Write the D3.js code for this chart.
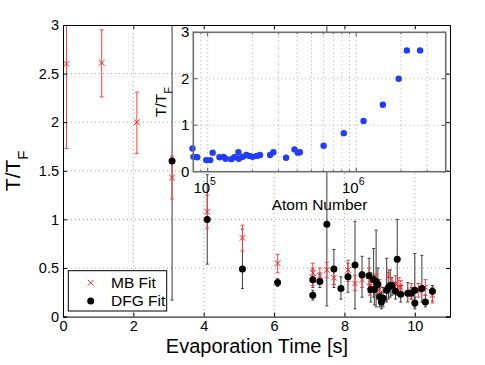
<!DOCTYPE html>
<html>
<head>
<meta charset="utf-8">
<script src="https://cdn.jsdelivr.net/npm/d3@7"></script>
<style>
  body { margin: 0; background: #fff; }
  text { font-family: "Liberation Sans", Arial, Helvetica, sans-serif; fill: #000; }
</style>
</head>
<body>
<svg id="chart"></svg>
<script>
// main panel data: evaporation time [s], T/T_F, lower and upper error bar ends
const mbTime = [0.1, 1.1, 2.1, 3.1, 4.1, 5.1, 6.1, 7.1, 7.1, 7.3, 7.5, 7.7, 8.1, 8.3, 8.5, 8.7, 8.72, 8.9, 9.0, 9.25, 9.45, 9.55, 9.6, 9.9, 10.1, 10.3, 10.5];
const mbValue = [2.6, 2.61, 2.0, 1.43, 1.08, 0.81, 0.55, 0.45, 0.40, 0.42, 0.48, 0.40, 0.48, 0.34, 0.38, 0.42, 0.31, 0.33, 0.28, 0.41, 0.34, 0.31, 0.30, 0.26, 0.27, 0.30, 0.22];
const mbLow = [1.73, 2.26, 1.68, 1.21, 0.91, 0.675, 0.45, 0.36, 0.32, 0.34, 0.40, 0.33, 0.36, 0.27, 0.30, 0.33, 0.22, 0.22, 0.18, 0.32, 0.26, 0.22, 0.22, 0.18, 0.20, 0.22, 0.14];
const mbHigh = [3.47, 2.95, 2.31, 1.65, 1.25, 0.94, 0.64, 0.55, 0.48, 0.50, 0.56, 0.47, 0.58, 0.42, 0.46, 0.50, 0.40, 0.44, 0.38, 0.48, 0.42, 0.40, 0.37, 0.34, 0.34, 0.38, 0.30];

const dfgTime = [3.1, 4.1, 5.1, 6.1, 7.1, 7.1, 7.3, 7.5, 7.7, 7.9, 8.1, 8.3, 8.5, 8.7, 8.75, 8.83, 8.85, 8.9, 8.95, 9.0, 9.05, 9.1, 9.2, 9.25, 9.3, 9.35, 9.45, 9.5, 9.6, 9.8, 9.9, 10.0, 10.0, 10.2, 10.3, 10.5];
const dfgValue = [1.60, 1.00, 0.49, 0.35, 0.38, 0.22, 0.36, 0.95, 0.49, 0.29, 0.41, 0.53, 0.43, 0.42, 0.28, 0.38, 0.28, 0.36, 0.33, 0.205, 0.15, 0.19, 0.27, 0.30, 0.32, 0.32, 0.26, 0.59, 0.23, 0.24, 0.24, 0.27, 0.14, 0.29, 0.15, 0.26];
const dfgLow = [0.17, 0.54, 0.29, 0.31, 0.30, 0.17, 0.30, 0.11, 0.30, 0.18, 0.25, 0.08, 0.20, 0.25, 0.15, 0.20, 0.12, 0.10, 0.18, 0.10, 0.08, 0.10, 0.15, 0.18, 0.20, 0.22, 0.18, 0.22, 0.15, 0.15, 0.18, 0.10, 0.08, 0.15, 0.10, 0.16];
const dfgHigh = [3.2, 1.46, 0.90, 0.39, 0.50, 0.27, 0.45, 3.2, 0.69, 0.41, 0.55, 0.98, 0.62, 0.60, 0.45, 0.70, 0.42, 0.89, 0.50, 0.35, 0.25, 0.30, 0.60, 0.45, 0.48, 0.40, 0.35, 1.00, 0.32, 0.35, 0.30, 0.65, 0.20, 0.63, 0.22, 0.32];

// inset data: atom number vs T/T_F
const insetAtoms = [79000, 80200, 85000, 97700, 104000, 108000, 120000, 128000, 132000, 144000, 151000, 161000, 162000, 172000, 182000, 191000, 200000, 214000, 225000, 263000, 277000, 337000, 384000, 404000, 417000, 603000, 824000, 1120000, 1510000, 1930000, 2190000, 2690000];
const insetValue = [0.50, 0.32, 0.31, 0.25, 0.25, 0.41, 0.31, 0.32, 0.28, 0.27, 0.31, 0.42, 0.28, 0.32, 0.36, 0.34, 0.32, 0.34, 0.36, 0.36, 0.42, 0.30, 0.48, 0.41, 0.42, 0.56, 0.83, 1.09, 1.44, 2.0, 2.61, 2.61];

const xTicks = [0, 2, 4, 6, 8, 10];
const yTicks = [0, 0.5, 1, 1.5, 2, 2.5, 3];
const insetYTicks = [0, 1, 2, 3];
const insetXMajor = [1e5, 1e6];

const width = 485, height = 365;
const svg = d3.select("#chart").attr("width", width).attr("height", height);

const mb = mbTime.map((t, i) => ({ t, v: mbValue[i], lo: mbLow[i], hi: mbHigh[i] }));
const dfg = dfgTime.map((t, i) => ({ t, v: dfgValue[i], lo: dfgLow[i], hi: dfgHigh[i] }));

// ---- main axes ----
const box = { left: 63, right: 450, top: 25, bottom: 316.6 };
const x = d3.scaleLinear().domain([0, 11]).range([box.left, box.right]);
const y = d3.scaleLinear().domain([0, 3]).range([box.bottom, box.top]);

svg.append("rect").attr("x", box.left).attr("y", box.top)
  .attr("width", box.right - box.left).attr("height", box.bottom - box.top)
  .attr("fill", "#fff");

const grid = svg.append("g").attr("stroke", "#a8a8a8").attr("stroke-dasharray", "1,3").attr("stroke-width", 1);
grid.selectAll(".gx").data(xTicks.slice(1)).join("line")
  .attr("x1", d => x(d)).attr("x2", d => x(d)).attr("y1", box.top).attr("y2", box.bottom);
grid.selectAll(".gy").data(yTicks.slice(1, -1)).join("line")
  .attr("y1", d => y(d)).attr("y2", d => y(d)).attr("x1", box.left).attr("x2", box.right);

svg.append("clipPath").attr("id", "mainclip").append("rect")
  .attr("x", box.left).attr("y", box.top).attr("width", box.right - box.left).attr("height", box.bottom - box.top);
const plot = svg.append("g").attr("clip-path", "url(#mainclip)");

// error bars
function errorBars(g, data, color, cap) {
  const eb = g.append("g").attr("stroke", color).attr("stroke-width", 1).attr("fill", "none");
  eb.selectAll("line.v").data(data).join("line")
    .attr("x1", d => x(d.t)).attr("x2", d => x(d.t))
    .attr("y1", d => y(d.lo)).attr("y2", d => y(d.hi));
  eb.selectAll("line.lo").data(data).join("line")
    .attr("x1", d => x(d.t) - cap).attr("x2", d => x(d.t) + cap)
    .attr("y1", d => y(d.lo)).attr("y2", d => y(d.lo));
  eb.selectAll("line.hi").data(data).join("line")
    .attr("x1", d => x(d.t) - cap).attr("x2", d => x(d.t) + cap)
    .attr("y1", d => y(d.hi)).attr("y2", d => y(d.hi));
}
errorBars(plot.append("g"), dfg, "#3a3a3a", 1.5);
errorBars(plot.append("g"), mb, "#ff4040", 2);

// markers
plot.append("g").selectAll("path").data(mb).join("path")
  .attr("d", d => {
    const cx = x(d.t), cy = y(d.v), s = 2.8;
    return `M${cx - s},${cy - s}L${cx + s},${cy + s}M${cx - s},${cy + s}L${cx + s},${cy - s}`;
  })
  .attr("stroke", "#ff2020").attr("stroke-width", 1);
plot.append("g").selectAll("circle").data(dfg).join("circle")
  .attr("cx", d => x(d.t)).attr("cy", d => y(d.v)).attr("r", 3.5)
  .attr("fill", "#000");

// axes with inward ticks
const fmt = d3.format("~g");
svg.append("g").attr("transform", `translate(0,${box.bottom})`)
  .call(d3.axisBottom(x).tickValues(xTicks).tickSize(-4).tickPadding(4).tickFormat(fmt))
  .call(g => g.select(".domain").attr("stroke", "#000"));
svg.append("g").attr("transform", `translate(0,${box.top})`)
  .call(d3.axisTop(x).tickValues(xTicks).tickSize(-4).tickFormat(""))
  .call(g => g.select(".domain").attr("stroke", "#000"));
svg.append("g").attr("transform", `translate(${box.left},0)`)
  .call(d3.axisLeft(y).tickValues(yTicks).tickSize(-4).tickPadding(4).tickFormat(fmt))
  .call(g => g.select(".domain").attr("stroke", "#000"));
svg.append("g").attr("transform", `translate(${box.right},0)`)
  .call(d3.axisRight(y).tickValues(yTicks).tickSize(-4).tickFormat(""))
  .call(g => g.select(".domain").attr("stroke", "#000"));
svg.selectAll(".tick text").attr("font-size", 14.5).attr("font-family", "Liberation Sans, Arial, sans-serif");

// axis labels
svg.append("text").attr("x", 257).attr("y", 353).attr("text-anchor", "middle")
  .attr("font-size", 20).text("Evaporation Time [s]");
const yl = svg.append("text").attr("transform", `translate(20,${(box.top + box.bottom) / 2}) rotate(-90)`)
  .attr("text-anchor", "middle").attr("font-size", 21);
yl.append("tspan").text("T/T");
yl.append("tspan").attr("font-size", 15).attr("dy", 8).text("F");

// legend
const lg = svg.append("g").attr("transform", "translate(68.3,270.7)");
lg.append("rect").attr("width", 98.4).attr("height", 40.3).attr("fill", "#fff").attr("stroke", "#000");
lg.append("path").attr("d", "M19.6,9.2L25.2,14.8M19.6,14.8L25.2,9.2").attr("stroke", "#ff2020");
lg.append("text").attr("x", 42.7).attr("y", 17.3).attr("font-size", 15.5).text("MB Fit");
lg.append("circle").attr("cx", 22.4).attr("cy", 30.3).attr("r", 3.5).attr("fill", "#000");
lg.append("text").attr("x", 42.7).attr("y", 35.5).attr("font-size", 15.5).text("DFG Fit");

// ---- inset ----
const ib = { left: 193.3, right: 445.7, top: 32.3, bottom: 171.7 };
const xi = d3.scaleLog().domain([8e4, 4e6]).range([ib.left, ib.right]);
const yi = d3.scaleLinear().domain([0, 3]).range([ib.bottom, ib.top]);

svg.append("rect").attr("x", ib.left).attr("y", ib.top)
  .attr("width", ib.right - ib.left).attr("height", ib.bottom - ib.top).attr("fill", "#fff");

const minorTicks = xi.ticks().filter(d => d > xi.domain()[0] && d < xi.domain()[1]);
const ig = svg.append("g").attr("stroke", "#a8a8a8").attr("stroke-dasharray", "1,3");
ig.selectAll(".ix").data(minorTicks).join("line")
  .attr("x1", d => xi(d)).attr("x2", d => xi(d)).attr("y1", ib.top).attr("y2", ib.bottom);
ig.selectAll(".iy").data(insetYTicks.slice(1, -1)).join("line")
  .attr("y1", d => yi(d)).attr("y2", d => yi(d)).attr("x1", ib.left).attr("x2", ib.right);

svg.append("g").selectAll("circle").data(insetAtoms.map((n, i) => ({ n, v: insetValue[i] }))).join("circle")
  .attr("cx", d => xi(d.n)).attr("cy", d => yi(d.v)).attr("r", 3.2)
  .attr("fill", "#1f3dff");

const it = svg.append("g").attr("stroke", "#555").attr("stroke-width", 1);
it.selectAll(".tb").data(minorTicks).join("line")
  .attr("x1", d => xi(d)).attr("x2", d => xi(d))
  .attr("y1", ib.bottom).attr("y2", d => ib.bottom - (insetXMajor.includes(d) ? 4 : 2));
it.selectAll(".tt").data(minorTicks).join("line")
  .attr("x1", d => xi(d)).attr("x2", d => xi(d))
  .attr("y1", ib.top).attr("y2", d => ib.top + (insetXMajor.includes(d) ? 4 : 2));
it.selectAll(".tl").data(insetYTicks).join("line")
  .attr("x1", ib.left).attr("x2", ib.left + 4).attr("y1", d => yi(d)).attr("y2", d => yi(d));
it.selectAll(".tr").data(insetYTicks).join("line")
  .attr("x1", ib.right).attr("x2", ib.right - 4).attr("y1", d => yi(d)).attr("y2", d => yi(d));

svg.append("rect").attr("x", ib.left).attr("y", ib.top)
  .attr("width", ib.right - ib.left).attr("height", ib.bottom - ib.top)
  .attr("fill", "none").attr("stroke", "#6e6e6e").attr("stroke-width", 1.6);

svg.append("g").selectAll("text").data(insetYTicks).join("text")
  .attr("x", ib.left - 4).attr("y", d => yi(d) + 5).attr("text-anchor", "end")
  .attr("font-size", 15).text(d => d);

const xl = svg.append("g").selectAll("text").data(insetXMajor).join("text")
  .attr("x", d => xi(d) - 3).attr("y", 193).attr("text-anchor", "middle").attr("font-size", 15);
xl.append("tspan").text("10");
xl.append("tspan").attr("font-size", 10.5).attr("dy", -8).text(d => Math.round(Math.log10(d)));

svg.append("text").attr("x", (ib.left + ib.right) / 2).attr("y", 210).attr("text-anchor", "middle")
  .attr("font-size", 15.5).text("Atom Number");
const iyl = svg.append("text").attr("transform", `translate(166,${(ib.top + ib.bottom) / 2}) rotate(-90)`)
  .attr("text-anchor", "middle").attr("font-size", 15.5);
iyl.append("tspan").text("T/T");
iyl.append("tspan").attr("font-size", 11).attr("dy", 6).text("F");
</script>
</body>
</html>
